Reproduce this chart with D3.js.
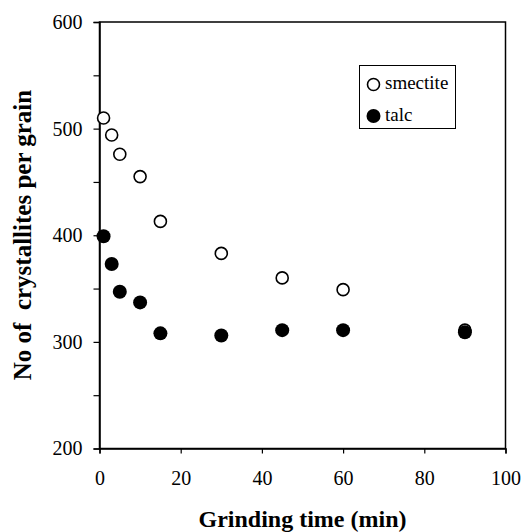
<!DOCTYPE html>
<html>
<head>
<meta charset="utf-8">
<script src="https://cdn.jsdelivr.net/npm/d3@7"></script>
<style>
  body { margin: 0; background: #fff; }
  svg { display: block; }
</style>
</head>
<body>
<div id="chart"></div>
<script>
// grinding time (min) and crystallites per grain
var timeMin = [1, 3, 5, 10, 15, 30, 45, 60, 90];
var smectite = [510, 494, 476, 455, 413, 383, 360, 349, 311];
var talc = [399, 373, 347, 337, 308, 306, 311, 311, 309];
var xTicks = [0, 20, 40, 60, 80, 100];
var yTicks = [200, 300, 400, 500, 600];
var seriesNames = ["smectite", "talc"];

var FONT = "Liberation Serif";

function init(){
    var w = 523, h = 532;
    var left = 99.5, right = 505.5, top = 22, bottom = 448.5;

    var x = d3.scaleLinear().domain([0, 100]).range([left, right]);
    var y = d3.scaleLinear().domain([200, 600]).range([bottom, top]);

    var svg = d3.select("#chart").append("svg")
        .attr("width", w).attr("height", h)
        .attr("font-family", FONT);

    // plot frame
    svg.append("rect")
        .attr("x", left).attr("y", top)
        .attr("width", right - left).attr("height", bottom - top)
        .attr("fill", "none").attr("stroke", "#000").attr("stroke-width", 1.5);

    var xAxis = d3.axisBottom(x).tickValues(xTicks).tickSize(5).tickFormat(d3.format("d"));
    var yAxis = d3.axisLeft(y).tickValues(d3.range(200, 601, 50)).tickSize(6)
        .tickFormat(function(d) { return yTicks.indexOf(d) >= 0 ? d : ""; });

    var gx = svg.append("g")
        .attr("transform", "translate(0," + bottom + ")")
        .call(xAxis);
    var gy = svg.append("g")
        .attr("transform", "translate(" + left + ",0)")
        .call(yAxis);

    [gx, gy].forEach(function(g) {
        g.attr("font-family", FONT).attr("font-size", 20);
        g.select(".domain").attr("stroke-width", 1.5);
        g.selectAll(".tick line").attr("stroke-width", 1.2);
        g.selectAll("text").attr("fill", "#000");
    });
    gx.selectAll("text").attr("y", 0).attr("dy", 0)
        .attr("transform", "translate(0,36)");
    gy.selectAll("text").attr("x", -17);

    // axis titles
    svg.append("text")
        .attr("x", (left + right) / 2).attr("y", 527)
        .attr("text-anchor", "middle")
        .attr("font-weight", "bold").attr("font-size", 24)
        .text("Grinding time (min)");

    svg.append("text")
        .attr("transform", "translate(30.5,235) rotate(-90)")
        .attr("text-anchor", "middle")
        .attr("font-weight", "bold").attr("font-size", 25)
        .style("white-space", "pre")
        .text("No of  crystallites per grain");

    // smectite: open circles
    svg.selectAll("circle.smectite")
        .data(smectite)
        .enter().append("circle")
        .attr("class", "smectite")
        .attr("cx", function(d, i) { return x(timeMin[i]); })
        .attr("cy", function(d) { return y(d); })
        .attr("r", 6)
        .attr("fill", "#fff").attr("stroke", "#000").attr("stroke-width", 1.6);

    // talc: filled circles
    svg.selectAll("circle.talc")
        .data(talc)
        .enter().append("circle")
        .attr("class", "talc")
        .attr("cx", function(d, i) { return x(timeMin[i]); })
        .attr("cy", function(d) { return y(d); })
        .attr("r", 7)
        .attr("fill", "#000");

    // legend
    var lg = svg.append("g");
    lg.append("rect")
        .attr("x", 359.5).attr("y", 65.5).attr("width", 96).attr("height", 63)
        .attr("fill", "#fff").attr("stroke", "#000").attr("stroke-width", 1);
    seriesNames.forEach(function(name, i) {
        var cy = 84.5 + i * 31.5;
        lg.append("circle")
            .attr("cx", 373.5).attr("cy", cy)
            .attr("r", i === 0 ? 6 : 7)
            .attr("fill", i === 0 ? "#fff" : "#000")
            .attr("stroke", i === 0 ? "#000" : "none")
            .attr("stroke-width", 1.6);
        lg.append("text")
            .attr("x", 385).attr("y", cy + 4.5)
            .attr("font-size", 19)
            .text(name);
    });
}
window.onload = init;
</script>
</body>
</html>
